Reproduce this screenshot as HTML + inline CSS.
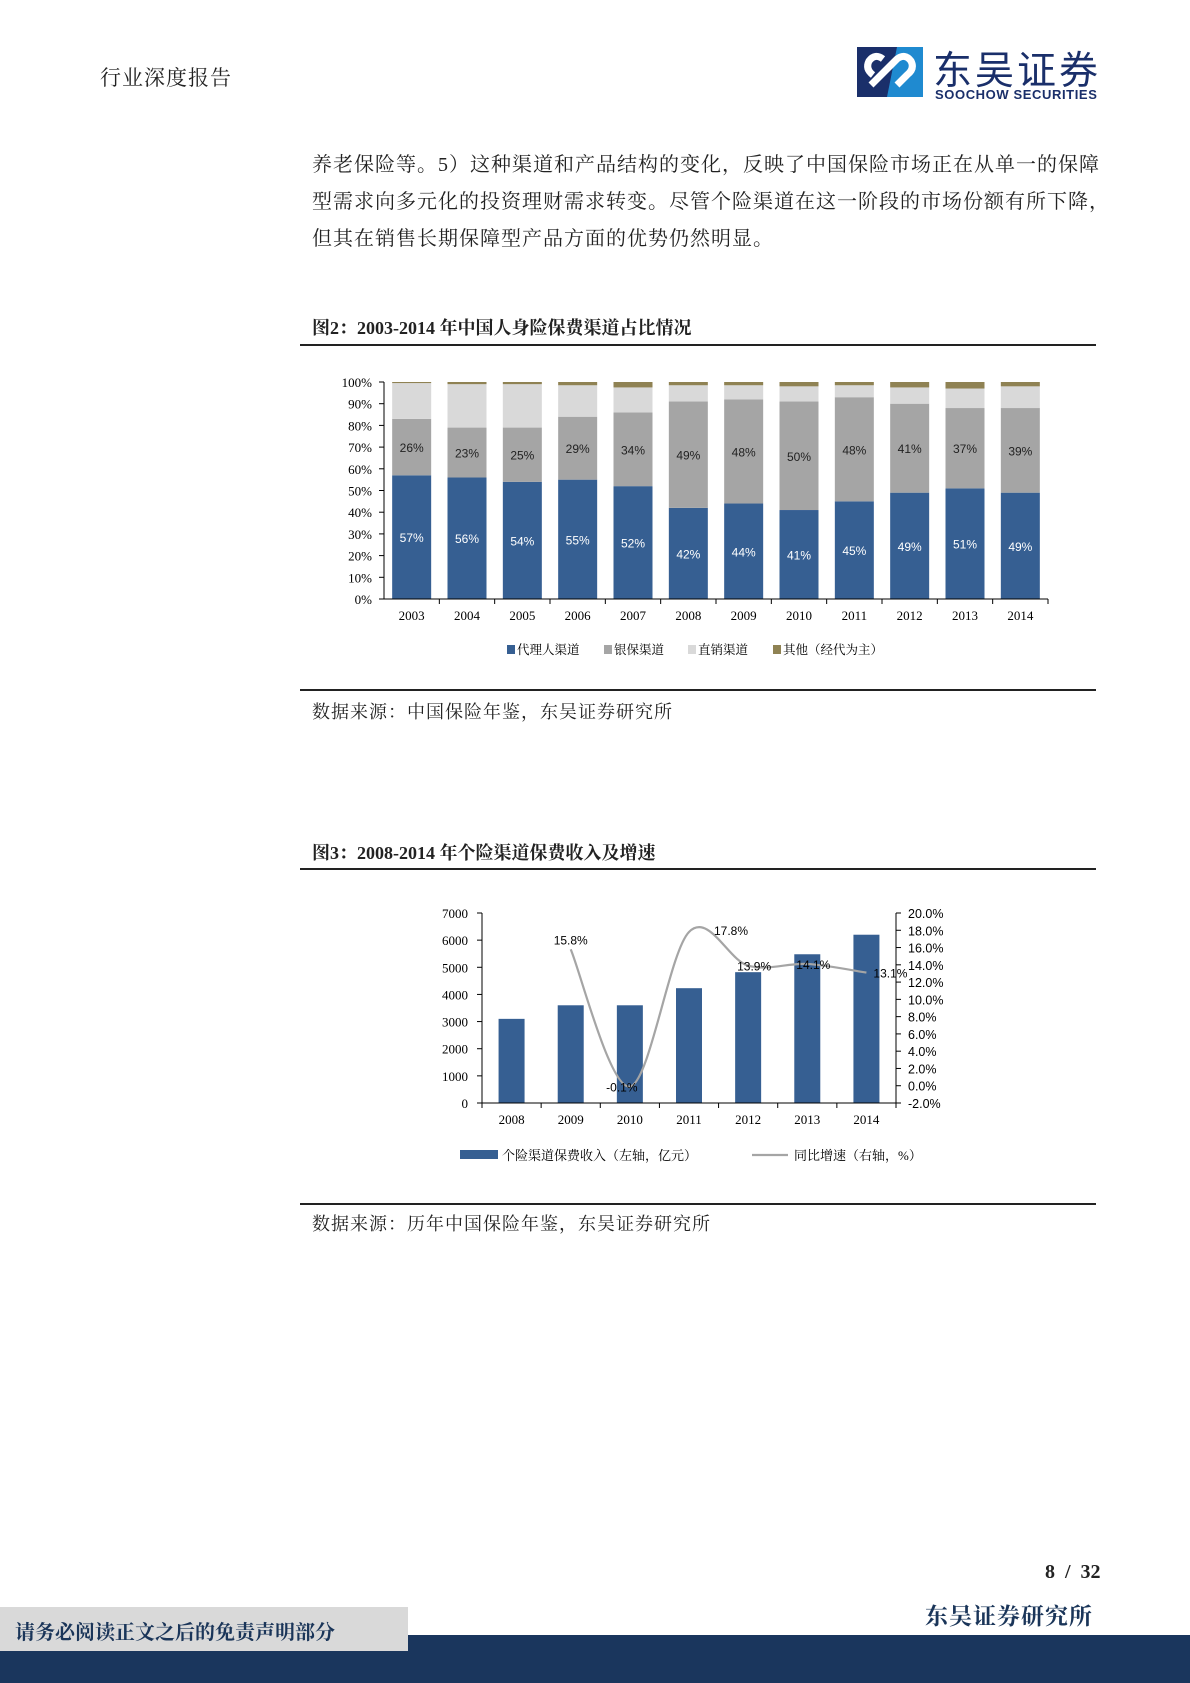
<!DOCTYPE html>
<html><head><meta charset="utf-8">
<style>
body{margin:0;width:1190px;height:1683px;position:relative;background:#fff;overflow:hidden;font-family:"Liberation Serif","Noto Serif CJK SC",serif;color:#222}
.abs{position:absolute}
.p{font-size:20px;letter-spacing:1.0px;left:312px;white-space:nowrap}
.rule{position:absolute;left:300px;width:796px;height:2px;background:#222}
.ft{font-weight:bold;font-size:18px;left:312px}
.src{font-size:18px;left:312px;letter-spacing:1px}
</style></head>
<body>
<div class="abs" style="left:100px;top:62px;font-size:21px;letter-spacing:1px">行业深度报告</div>
<svg class="abs" style="left:857px;top:47px" width="66" height="50" viewBox="0 0 66 50">
<rect x="0" y="0" width="66" height="50" fill="#1a2f6a"/>
<path d="M40 0 L66 0 L66 50 L30 50 Z" fill="#1f8ad0"/>
<path d="M14 38 L40 12 Q48 6 54 14 Q58 22 50 28 L40 38" stroke="#fff" stroke-width="7" fill="none"/>
<path d="M26 12 Q18 6 12 14 Q8 22 16 28" stroke="#fff" stroke-width="7" fill="none"/>
</svg>
<div class="abs" style="left:933px;top:40px;font-family:'Liberation Sans','Noto Sans CJK SC',sans-serif;font-size:39px;color:#1a2f6a;letter-spacing:3px">东吴证券</div>
<div class="abs" style="left:935px;top:87px;font-family:'Liberation Sans',sans-serif;font-weight:bold;font-size:13px;color:#1a2f6a;letter-spacing:0.6px">SOOCHOW SECURITIES</div>

<div class="abs p" style="top:148px">养老保险等。5）这种渠道和产品结构的变化，反映了中国保险市场正在从单一的保障</div>
<div class="abs p" style="top:185px">型需求向多元化的投资理财需求转变。尽管个险渠道在这一阶段的市场份额有所下降，</div>
<div class="abs p" style="top:222px">但其在销售长期保障型产品方面的优势仍然明显。</div>

<div class="abs ft" style="top:314px">图2：2003-2014 年中国人身险保费渠道占比情况</div>
<div class="rule" style="top:344px"></div>
<svg class="abs" id="c1" style="left:0;top:0" width="1190" height="1683"></svg>
<div class="rule" style="top:689px"></div>
<div class="abs src" style="top:698px">数据来源：中国保险年鉴，东吴证券研究所</div>

<div class="abs ft" style="top:839px">图3：2008-2014 年个险渠道保费收入及增速</div>
<div class="rule" style="top:868px"></div>
<svg class="abs" id="c2" style="left:0;top:0" width="1190" height="1683"></svg>
<div class="rule" style="top:1203px"></div>
<div class="abs src" style="top:1210px">数据来源：历年中国保险年鉴，东吴证券研究所</div>

<div class="abs" style="left:1045px;top:1561px;font-weight:bold;font-size:20px">8 &nbsp;/ &nbsp;32</div>
<div class="abs" style="left:925px;top:1598px;font-weight:bold;font-size:23px;color:#1a3559;letter-spacing:1px">东吴证券研究所</div>
<div class="abs" style="left:0;top:1635px;width:1190px;height:48px;background:#1a365d"></div>
<div class="abs" style="left:0;top:1607px;width:408px;height:44px;background:#d9d9d9"></div>
<div class="abs" style="left:15px;top:1616px;font-weight:bold;font-size:20px;color:#1a3559">请务必阅读正文之后的免责声明部分</div>

<script>
const years1=["2003","2004","2005","2006","2007","2008","2009","2010","2011","2012","2013","2014"];
const agent=[57,56,54,55,52,42,44,41,45,49,51,49];
const banca=[26,23,25,29,34,49,48,50,48,41,37,39];
const direct=[16.5,20,20,14.5,11.5,7.5,6.5,7,5.5,7.5,9,10];
const yTicks1=[0,10,20,30,40,50,60,70,80,90,100];
const legend1=["代理人渠道","银保渠道","直销渠道","其他（经代为主）"];

const years2=["2008","2009","2010","2011","2012","2013","2014"];
const premium=[3100,3600,3600,4230,4820,5480,6200];
const growth=[null,15.8,-0.1,17.8,13.9,14.1,13.1];
const leftTicks=[0,1000,2000,3000,4000,5000,6000,7000];
const rightTicks=[-2,0,2,4,6,8,10,12,14,16,18,20];

const NS="http://www.w3.org/2000/svg";
function mk(svg,tag,attrs,text){const e=document.createElementNS(NS,tag);for(const k in attrs)e.setAttribute(k,attrs[k]);if(text!==undefined)e.textContent=text;svg.appendChild(e);return e;}
const F1="'Liberation Serif','Noto Serif CJK SC',serif";
const F2="'Liberation Sans','Noto Sans CJK SC',sans-serif";

// chart 1
(function(){
const s=document.getElementById('c1');
const x0=384,x1=1048,yTop=382,yBot=599;
const cw=(x1-x0)/years1.length,bw=39;
const y=v=>yBot-(v/100)*(yBot-yTop);
const colors=["#365f92","#a5a5a5","#d9d9d9","#8f8253"];
yTicks1.forEach(t=>{
 const tk=mk(s,'line',{x1:x0-5,x2:x0,y1:y(t),y2:y(t),stroke:'#000'});
 
 const l=mk(s,'text',{x:x0-12,y:y(t)+5,'text-anchor':'end','font-size':13,'font-family':F1},t+'%');
 
});
mk(s,'line',{x1:x0,x2:x0,y1:yTop,y2:yBot,stroke:'#000'});
years1.forEach((yr,i)=>{
 const cx=x0+cw*(i+0.5),bx=cx-bw/2;
 const other=100-agent[i]-banca[i]-direct[i];
 const vals=[agent[i],banca[i],direct[i],other];let acc=0;
 vals.forEach((v,k)=>{
  const r=mk(s,'rect',{x:bx,y:y(acc+v),width:bw,height:y(acc)-y(acc+v),fill:colors[k]});
  
  
  acc+=v;
 });
 const a=mk(s,'text',{x:cx,y:y(agent[i]/2)+5,'text-anchor':'middle','font-size':12,fill:'#fff','font-family':F2},agent[i]+'%');
 
 const b=mk(s,'text',{x:cx,y:y(agent[i]+banca[i]/2)+5,'text-anchor':'middle','font-size':12,fill:'#222','font-family':F2},banca[i]+'%');
 
 const xl=mk(s,'text',{x:cx,y:620,'text-anchor':'middle','font-size':13,'font-family':F1},yr);
 
 mk(s,'line',{x1:x0+cw*(i+1),x2:x0+cw*(i+1),y1:yBot,y2:yBot+5,stroke:'#000'});
});
mk(s,'line',{x1:x0,x2:x1,y1:yBot,y2:yBot,stroke:'#000'});
const lx=[507,604,688,773];
legend1.forEach((n,k)=>{
 const r=mk(s,'rect',{x:lx[k],y:645,width:8,height:9,fill:colors[k]});
 
 const t=mk(s,'text',{x:lx[k]+10,y:654,'font-size':12.5,'font-family':F1},n);
 
});
})();

// chart 2
(function(){
const s=document.getElementById('c2');
const x0=482,x1=896,yTop=913,yBot=1103;
const cw=(x1-x0)/years2.length,bw=26;
const yl=v=>yBot-(v/7000)*(yBot-yTop);
const yr=v=>yBot-((v+2)/22)*(yBot-yTop);
leftTicks.forEach(t=>{
 mk(s,'line',{x1:x0-5,x2:x0,y1:yl(t),y2:yl(t),stroke:'#000'});
 const l=mk(s,'text',{x:x0-14,y:yl(t)+5,'text-anchor':'end','font-size':13,'font-family':F1},t);
 
});
rightTicks.forEach(t=>{
 mk(s,'line',{x1:x1,x2:x1+5,y1:yr(t),y2:yr(t),stroke:'#000'});
 const l=mk(s,'text',{x:x1+12,y:yr(t)+5,'font-size':12.5,'font-family':F2},t.toFixed(1)+'%');
 
});
mk(s,'line',{x1:x0,x2:x0,y1:yTop,y2:yBot,stroke:'#000'});
mk(s,'line',{x1:x1,x2:x1,y1:yTop,y2:yBot,stroke:'#000'});
years2.forEach((y_,i)=>{
 const cx=x0+cw*(i+0.5);
 const r=mk(s,'rect',{x:cx-bw/2,y:yl(premium[i]),width:bw,height:yBot-yl(premium[i]),fill:'#365f92'});
 
 const xl=mk(s,'text',{x:cx,y:1124,'text-anchor':'middle','font-size':13,'font-family':F1},y_);
 
 mk(s,'line',{x1:x0+cw*i,x2:x0+cw*i,y1:yBot,y2:yBot+5,stroke:'#000'});
});
mk(s,'line',{x1:x1,x2:x1,y1:yBot,y2:yBot+5,stroke:'#000'});
mk(s,'line',{x1:x0,x2:x1,y1:yBot,y2:yBot,stroke:'#000'});
const pts=[];growth.forEach((g,i)=>{if(g!==null)pts.push([x0+cw*(i+0.5),yr(g),g]);});
let d='M'+pts[0][0]+','+pts[0][1];
for(let i=0;i<pts.length-1;i++){
 const p0=pts[Math.max(0,i-1)],p1=pts[i],p2=pts[i+1],p3=pts[Math.min(pts.length-1,i+2)];
 const t=0.5/3*2;
 const c1=[p1[0]+(p2[0]-p0[0])*t/2,p1[1]+(p2[1]-p0[1])*t/2];
 const c2=[p2[0]-(p3[0]-p1[0])*t/2,p2[1]-(p3[1]-p1[1])*t/2];
 d+=' C'+c1+' '+c2+' '+p2[0]+','+p2[1];
}
const ln=mk(s,'path',{d:d,fill:'none',stroke:'#a5a5a5','stroke-width':2.2});

const dx=[0,-8,42,6,6,24],dy=[5,-5,-3,-5,-5,-5];
pts.forEach((p,i)=>{
 const l=mk(s,'text',{x:p[0]+dx[i],y:p[1]-dy[i],'text-anchor':'middle','font-size':12,'font-family':F2},p[2].toFixed(1)+'%');
 
});
const lr=mk(s,'rect',{x:460,y:1150,width:38,height:9,fill:'#365f92'});

const lt=mk(s,'text',{x:502,y:1160,'font-size':13,'font-family':F1},'个险渠道保费收入（左轴，亿元）');

const ll=mk(s,'line',{x1:752,x2:788,y1:1155,y2:1155,stroke:'#a5a5a5','stroke-width':2.2});

const lt2=mk(s,'text',{x:794,y:1160,'font-size':13,'font-family':F1},'同比增速（右轴，%）');

})();
</script>
</body></html>
